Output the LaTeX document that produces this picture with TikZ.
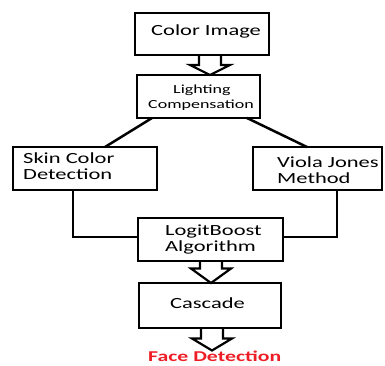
\documentclass[tikz,border=0pt]{standalone}
\usepackage{fontspec}
\usepackage{graphicx}
\setmainfont{Carlito}
\usetikzlibrary{calc}
\definecolor{facered}{RGB}{238,28,36}
\newcommand\wide[1]{\scalebox{1.45}[1]{#1}}
\newcommand\blkarrow[3]{%
  \draw[arrowline] ($(#1)+(-11,0)$) -- ($(#1)+(-11,#3)$) -- ($(#1)+(-20,#3)$) -- (#2) -- ($(#1)+(20,#3)$) -- ($(#1)+(11,#3)$) -- ($(#1)+(11,0)$);}
\begin{document}
\begin{tikzpicture}[x=1pt,y=-1pt,
  box/.style={draw=black,line width=2.5pt,outer sep=0pt,inner sep=0pt},
  txt/.style={inner sep=0pt,anchor=base west,font=\fontsize{15.5}{16}\selectfont},
  smalltxt/.style={inner sep=0pt,anchor=base west,font=\fontsize{12.4}{14}\selectfont},
  conn/.style={draw=black,line width=2.5pt},
  arrowline/.style={draw=black,fill=white,line width=2.2pt,line join=miter}]
\useasboundingbox (0,0) rectangle (385,365);
% boxes
\node[box,minimum width=134,minimum height=42] (color) at (202,34) {};
\node[box,minimum width=123,minimum height=43] (light) at (198.5,96.5) {};
\node[box,minimum width=144,minimum height=43] (skin) at (85,168.5) {};
\node[box,minimum width=129,minimum height=43] (viola) at (317.5,168.5) {};
\node[box,minimum width=145,minimum height=43] (logit) at (210.5,239.5) {};
\node[box,minimum width=142,minimum height=45] (casc) at (210,305.5) {};
% texts
\node[txt] (t1) at (151,35.5) {\wide{Color Image}};
\node[smalltxt] (t2a) at (173,93) {\wide{Lighting}};
\node[smalltxt] (t2b) at (148,108.5) {\wide{Compensation}};
\node[txt] (t3a) at (23,163) {\wide{Skin Color}};
\node[txt] (t3b) at (23,179) {\wide{Detection}};
\node[txt] (t4a) at (277,167) {\wide{Viola Jones}};
\node[txt] (t4b) at (277,183) {\wide{Method}};
\node[txt] (t5a) at (165,235) {\wide{LogitBoost}};
\node[txt] (t5b) at (165,251) {\wide{Algorithm}};
\node[txt] (t6) at (170,308) {\wide{Cascade}};
\node[txt,font=\fontsize{15}{16}\selectfont\bfseries,text=facered] (t7) at (148,361.5) {\wide{Face Detection}};
% connectors
\draw[conn] ($(light.south west)+(15,0)$) -- ($(skin.north west)+(92,0)$);
\draw[conn] ($(light.south west)+(110,0)$) -- ($(viola.north west)+(54,0)$);
\draw[conn] ($(skin.south west)+(60,0)$) |- ($(logit.west)+(0,-2.5)$);
\draw[conn] ($(viola.south west)+(84,0)$) |- ($(logit.east)+(0,-2.5)$);
% block arrows
\coordinate (a1) at (210,55);
\coordinate (a2) at (211,261);
\coordinate (a3) at (212,328);
\coordinate (a3end) at (212,350.5);
\blkarrow{a1}{a1 |- light.north}{10}
\blkarrow{a2}{a2 |- casc.north}{7.5}
\blkarrow{a3}{a3end}{10.5}
% redraw box edges on top of arrow ends
\draw[box] (color.south west) -- (color.south east);
\draw[box] (light.north west) -- (light.north east);
\draw[box] (logit.south west) -- (logit.south east);
\draw[box] (casc.north west) -- (casc.north east);
\draw[box] (casc.south west) -- (casc.south east);
\end{tikzpicture}
\end{document}
